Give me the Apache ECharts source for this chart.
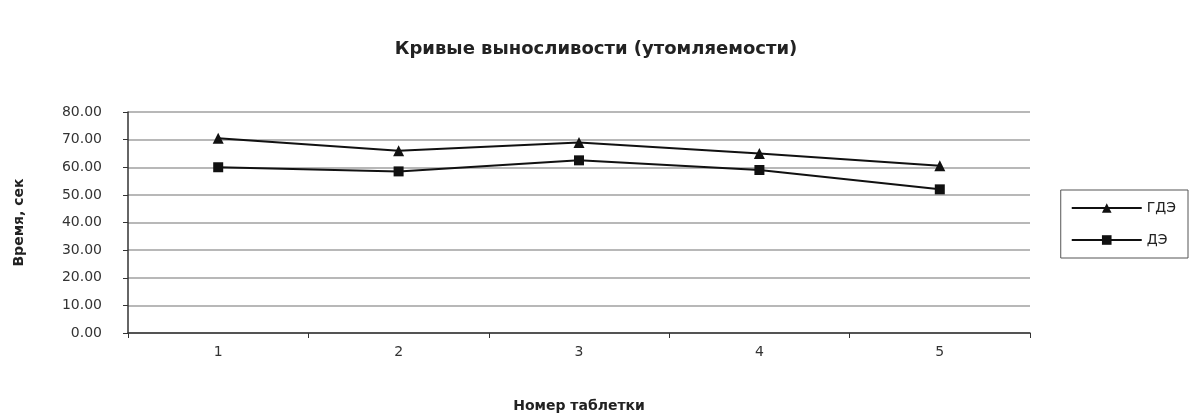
<!DOCTYPE html>
<html>
<head>
<meta charset="utf-8">
<script src="https://cdn.jsdelivr.net/npm/echarts@6/dist/echarts.min.js"></script>
<style>
  html, body { margin: 0; padding: 0; background: #fff; }
  #chart { width: 1192px; height: 418px; }
</style>
</head>
<body>
<div id="chart"></div>
<script>
// Sample numbers along the x axis
const categories = ['1', '2', '3', '4', '5'];
// Series names shown in the legend
const seriesNames = ['ГДЭ', 'ДЭ'];
// Time values per sample
const valuesGDE = [70.5, 66.0, 69.0, 65.0, 60.5];
const valuesDE = [60.0, 58.5, 62.5, 59.0, 52.0];
// Y axis range
const yMin = 0, yMax = 80, yStep = 10;

const chart = echarts.init(document.getElementById('chart'), null, { renderer: 'canvas' });
const font = 'DejaVu Sans';

chart.setOption({
  backgroundColor: '#ffffff',
  animation: false,
  title: {
    text: 'Кривые выносливости (утомляемости)',
    left: 'center',
    top: 35,
    textStyle: { fontFamily: font, fontSize: 18, fontWeight: 'bold', color: '#222' }
  },
  legend: {
    orient: 'vertical',
    right: 4,
    top: 190,
    padding: [11, 12, 11, 10],
    itemWidth: 70,
    itemHeight: 12,
    itemGap: 18,
    borderColor: '#555',
    borderWidth: 1,
    textStyle: { fontFamily: font, fontSize: 14, color: '#222' },
    data: seriesNames
  },
  grid: { left: 128, right: 162, top: 112, bottom: 83 },
  xAxis: {
    type: 'category',
    data: categories,
    boundaryGap: true,
    name: 'Номер таблетки',
    nameLocation: 'middle',
    nameGap: 66,
    nameTextStyle: { fontFamily: font, fontSize: 14, fontWeight: 'bold', color: '#222' },
    axisLine: { lineStyle: { color: '#333', width: 1.5 } },
    axisTick: { show: true, alignWithLabel: false, length: 5, lineStyle: { color: '#333' } },
    axisLabel: { fontFamily: font, fontSize: 14, color: '#333', margin: 12 },
    splitLine: { show: false }
  },
  yAxis: {
    type: 'value',
    min: yMin,
    max: yMax,
    interval: yStep,
    name: 'Время, сек',
    nameLocation: 'middle',
    nameGap: 102,
    nameTextStyle: { fontFamily: font, fontSize: 14, fontWeight: 'bold', color: '#222' },
    axisLine: { show: true, lineStyle: { color: '#333', width: 1.5 } },
    axisTick: { show: true, length: 5, lineStyle: { color: '#333' } },
    axisLabel: {
      fontFamily: font, fontSize: 14, color: '#333', margin: 26,
      formatter: v => v.toFixed(2)
    },
    splitLine: { show: true, lineStyle: { color: '#a0a0a0', width: 1.5 } }
  },
  series: [
    {
      name: seriesNames[0],
      type: 'line',
      data: valuesGDE,
      symbol: 'triangle',
      symbolSize: 11,
      itemStyle: { color: '#111' },
      lineStyle: { color: '#111', width: 2 }
    },
    {
      name: seriesNames[1],
      type: 'line',
      data: valuesDE,
      symbol: 'rect',
      symbolSize: 10,
      itemStyle: { color: '#111' },
      lineStyle: { color: '#111', width: 2 }
    }
  ]
});
</script>
</body>
</html>
